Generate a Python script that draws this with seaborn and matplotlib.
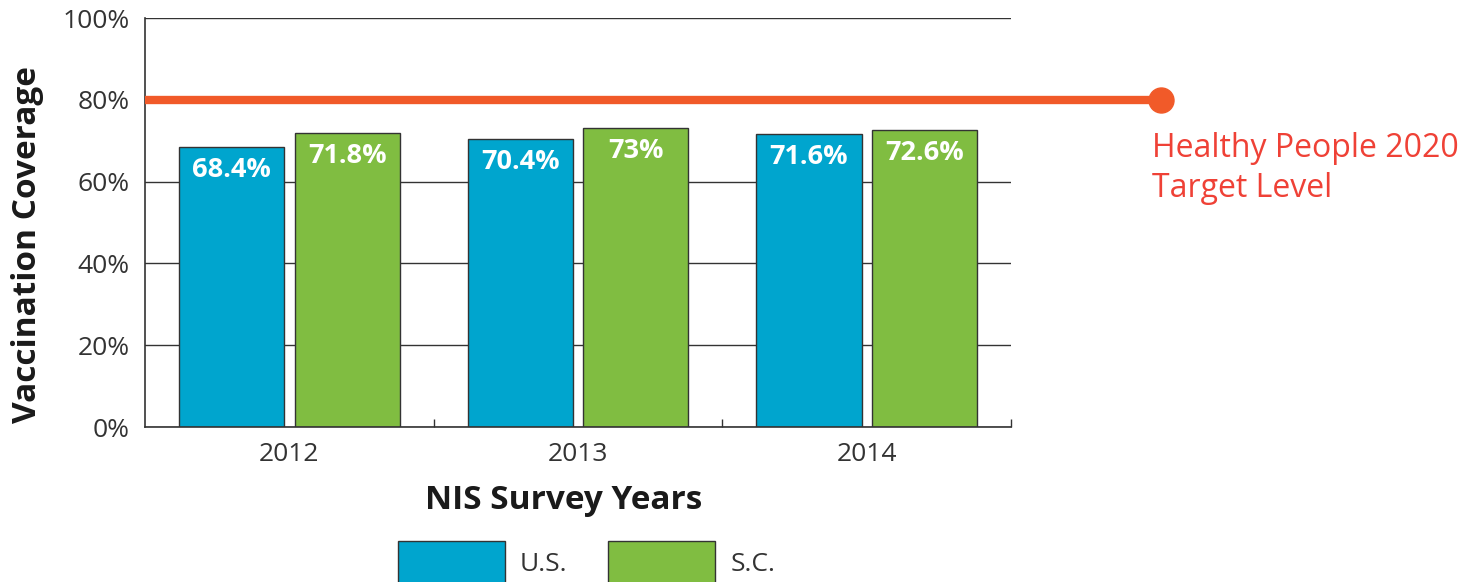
import pandas as pd
import matplotlib.pyplot as plt
import seaborn as sns

years = ['2012', '2013', '2014']
us_values = [68.4, 70.4, 71.6]
sc_values = [71.8, 73.0, 72.6]
regions = ['U.S.', 'S.C.']
target = 80
target_label = 'Healthy People 2020\nTarget Level'
y_ticks = [0, 20, 40, 60, 80, 100]

colors = {'U.S.': '#00A5CE', 'S.C.': '#80BD41'}


def build_frame():
    rows = []
    for yr, us, sc in zip(years, us_values, sc_values):
        rows.append({'Year': yr, 'Region': 'U.S.', 'Value': us})
        rows.append({'Year': yr, 'Region': 'S.C.', 'Value': sc})
    return pd.DataFrame(rows)


def plot_chart(df):
    sns.set_style('white')
    plt.rcParams['font.family'] = ['Open Sans', 'DejaVu Sans']

    fig = plt.figure(figsize=(14.78, 5.82), dpi=100)
    ax = fig.add_axes([0.0981, 0.2663, 0.5860, 0.7027])

    sns.barplot(data=df, x='Year', y='Value', hue='Region', order=years,
                hue_order=regions, palette=colors, width=0.8, gap=0.09,
                edgecolor='#333333', linewidth=1, saturation=1, ax=ax,
                legend=False, zorder=2)

    # value labels inside the top of each bar
    for cont in ax.containers:
        for bar in cont:
            h = bar.get_height()
            ax.annotate('{:g}%'.format(h), (bar.get_x() + bar.get_width() / 2, h),
                        xytext=(0, -7), textcoords='offset points',
                        ha='center', va='top', color='white',
                        fontsize=19.5, fontweight='bold', zorder=3)

    ax.set_ylim(0, 100)
    ax.set_xlim(-0.5, 2.5)
    ax.set_yticks(y_ticks)
    ax.set_yticklabels([f'{t}%' for t in y_ticks])
    ax.yaxis.grid(True, color='#333333', linewidth=1)
    ax.set_axisbelow(True)

    ax.set_xticks([0.5, 1.5, 2.5], minor=True)
    ax.tick_params(axis='x', which='major', length=0, pad=11, labelsize=19,
                   labelcolor='#333333')
    ax.tick_params(axis='x', which='minor', direction='in', length=6,
                   color='#333333', width=1, bottom=True)
    ax.tick_params(axis='y', length=0, pad=11, labelsize=19, labelcolor='#333333')

    for side in ['top', 'right']:
        ax.spines[side].set_visible(False)
    for side in ['left', 'bottom']:
        ax.spines[side].set_color('#333333')
        ax.spines[side].set_linewidth(1.2)

    ax.set_xlabel('NIS Survey Years', fontsize=24, fontweight='bold',
                  color='#1a1a1a', labelpad=12)
    ax.set_ylabel('Vaccination Coverage', fontsize=24, fontweight='bold',
                  color='#1a1a1a', labelpad=13)
    ax.xaxis.label.set_x(0.483)
    ax.yaxis.label.set_y(0.447)

    # target line running past the plot area
    trans = ax.get_yaxis_transform()
    ax.plot([0, 1.173], [target, target], transform=trans, color='#F15A29',
            linewidth=6, clip_on=False, zorder=4, solid_capstyle='butt')
    ax.plot([1.173], [target], transform=trans, marker='o', markersize=18,
            color='#F15A29', clip_on=False, zorder=4)
    ax.text(1.163, target - 7.8, target_label, transform=trans, color='#EF4136',
            fontsize=23, va='top', ha='left', linespacing=1.28)

    handles = [plt.Rectangle((0, 0), 1, 1, facecolor=colors[r],
                             edgecolor='#333333', linewidth=1) for r in regions]
    fig.legend(handles, regions, loc='upper left', bbox_to_anchor=(0.2693, 0.0704),
               ncol=2, frameon=False, fontsize=19, handlelength=4.05,
               handleheight=2.1, handletextpad=0.57, columnspacing=1.55,
               borderpad=0, borderaxespad=0, labelcolor='#333333')

    fig.savefig('out.png', dpi=100)


df = build_frame()
plot_chart(df)
